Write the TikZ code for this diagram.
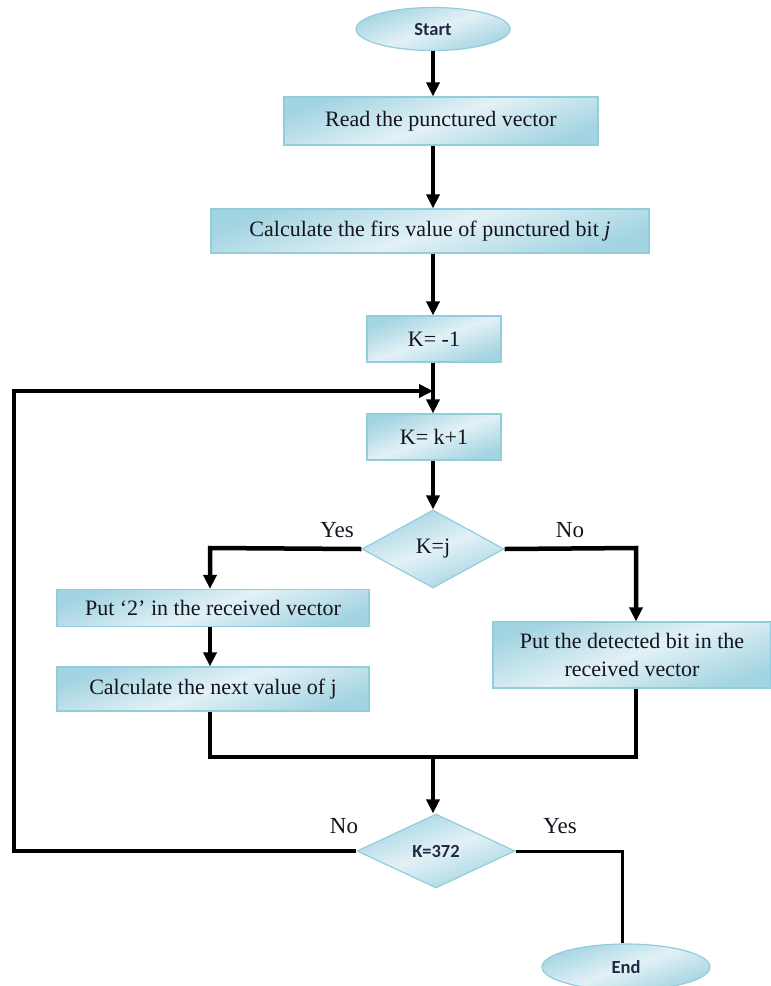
\documentclass[tikz,border=0pt]{standalone}
\usepackage{fontspec}
\setmainfont{Liberation Serif}
\newfontfamily\calfont{Carlito}
\usetikzlibrary{shapes.geometric,arrows.meta}
\definecolor{boxedge}{HTML}{93CDDD}
\definecolor{boxdark}{HTML}{A3D4E1}
\definecolor{boxlight}{HTML}{E2F1F6}
\definecolor{navytext}{HTML}{1F2A44}
\definecolor{bodytext}{HTML}{14141E}
\begin{document}
\begin{tikzpicture}[x=1pt,y=-1pt,
  fillshade/.style={draw=boxedge, line width=1.2pt, top color=boxdark, bottom color=boxdark, middle color=boxlight, shading angle=20},
  procbox/.style={fillshade, rectangle, inner sep=0pt, align=center, text=bodytext, font=\fontsize{22}{28}\selectfont},
  termnode/.style={fillshade, ellipse, inner sep=0pt, font=\calfont\fontsize{18.5}{20}\selectfont\bfseries, text=navytext},
  decnode/.style={fillshade, diamond, inner sep=0pt},
  flowline/.style={line width=4.5pt, line join=miter},
  arr/.style={flowline, -{Triangle[length=14pt,width=13pt]}},
  lbl/.style={font=\fontsize{23}{26}\selectfont, inner sep=0pt, text=bodytext}
]
\useasboundingbox (0,0) rectangle (771,986);

\node[termnode, minimum width=154pt, minimum height=43pt] (start) at (433,29) {Start};
\node[procbox, minimum width=314pt, minimum height=48pt] (read) at (441,121) {Read the punctured vector};
\node[procbox, minimum width=438pt, minimum height=44pt] (calc) at (430,231) {Calculate the firs value of punctured bit \textit{j}};
\node[procbox, minimum width=134pt, minimum height=46pt] (kinit) at (434,339) {K= -1};
\node[procbox, minimum width=134pt, minimum height=46pt] (kinc) at (434,437) {K= k+1};
\node[decnode, minimum width=142pt, minimum height=78pt, text=bodytext, font=\fontsize{22}{24}\selectfont] (kj) at (433,549) {K=j};
\node[procbox, minimum width=312pt, minimum height=37pt] (put2) at (213,608) {Put `2' in the received vector};
\node[procbox, minimum width=312pt, minimum height=44pt] (calcnext) at (213,689) {Calculate the next value of j};
\node[procbox, minimum width=278pt, minimum height=66pt] (putbit) at (632,655) {Put the detected bit in the\\received vector};
\node[decnode, minimum width=158pt, minimum height=74pt, font=\calfont\fontsize{18.5}{20}\selectfont\bfseries, text=navytext] (k372) at (436,851) {K=372};
\node[termnode, minimum width=168pt, minimum height=46pt] (end) at (626,967) {End};

\node[lbl] (yes1) at (337,530) {Yes};
\node[lbl] (no1) at (570,530) {No};
\node[lbl] (no2) at (344,826) {No};
\node[lbl] (yes2) at (560,826) {Yes};

\coordinate (loopL) at (14,391);
\coordinate (loopR) at (433,391);
\coordinate (yesX) at (210,548);
\coordinate (noX) at (636,548);
\coordinate (mL) at (210,757);
\coordinate (mC) at (433,757);
\coordinate (mR) at (636,757);
\coordinate (endX) at (622,851);

\draw[arr] (start.south) -- (start.south |- read.north);
\draw[arr] (start.south |- read.south) -- (start.south |- calc.north);
\draw[arr] (start.south |- calc.south) -- (start.south |- kinit.north);
\draw[arr] (start.south |- kinit.south) -- (start.south |- kinc.north);
\draw[arr] (start.south |- kinc.south) -- (kj.north);

\draw[arr] (kj.west) -- (yesX) -- (yesX |- put2.north);
\draw[arr] (yesX |- put2.south) -- (yesX |- calcnext.north);
\draw[arr] (kj.east) -- (noX) -- (noX |- putbit.north);

\draw[flowline] (yesX |- calcnext.south) -- (mL) -- (mR) -- (noX |- putbit.south);
\draw[arr] (mC) -- (mC |- k372.north);

\draw[arr] (k372.west) -- (loopL |- k372.west) -- (loopL) -- (loopR);
\draw[line width=3pt] (k372.east) -- (endX) -- (endX |- end.north);
\end{tikzpicture}
\end{document}
